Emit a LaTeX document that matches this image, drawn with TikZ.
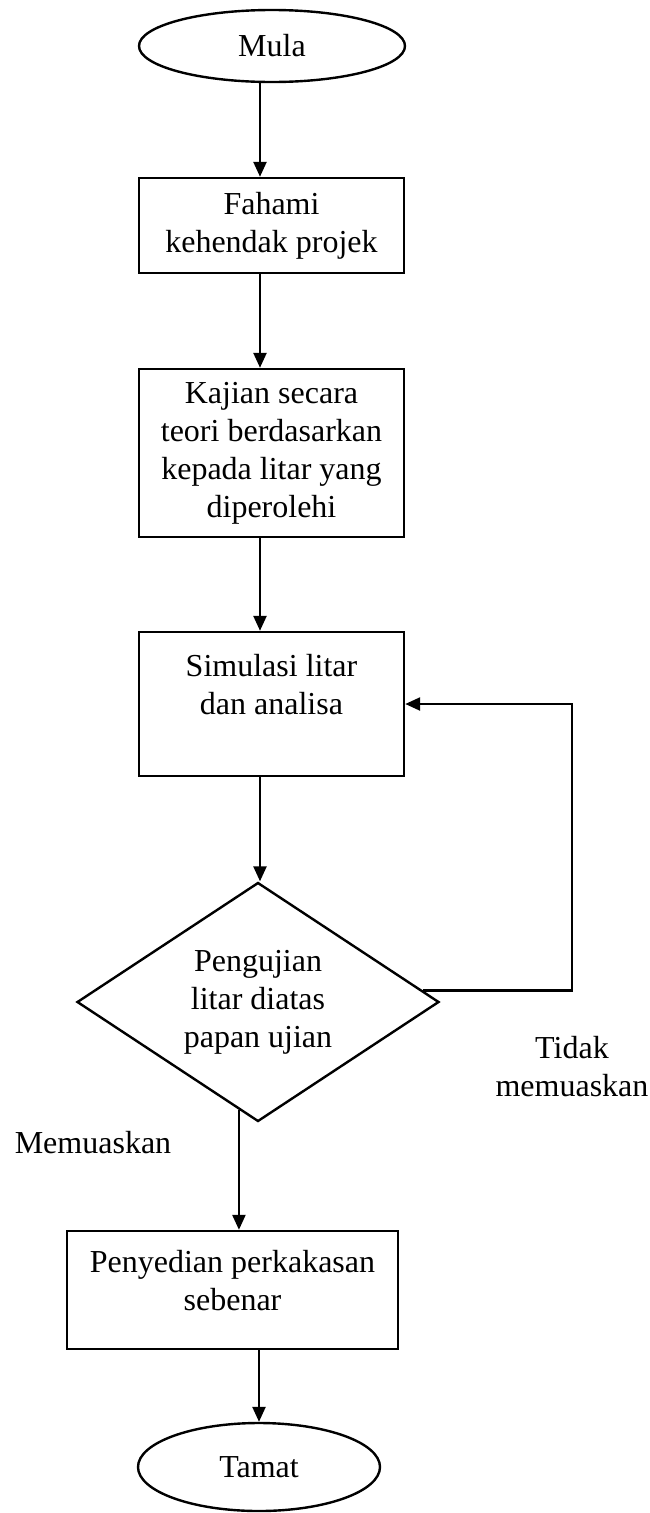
\documentclass[tikz,border=0pt]{standalone}
\usepackage{fontspec}
\setmainfont{Liberation Serif}
\usetikzlibrary{shapes.geometric,arrows.meta}
\newcommand{\padbelow}[1]{\rule[-#1]{0pt}{#1}}
\begin{document}
\begin{tikzpicture}[x=1pt,y=-1pt,
    every node/.style={font=\fontsize{32}{38}\selectfont},
    flowbox/.style={draw,line width=2.4pt,rectangle,align=center,inner sep=0pt},
    terminal/.style={draw,line width=2.4pt,ellipse,inner sep=0pt},
    decision/.style={draw,line width=2.4pt,diamond,align=center,inner sep=0pt,aspect=1.5},
    arrow/.style={line width=2.4pt,-{Triangle[length=15pt,width=13pt]}}]
   \useasboundingbox (0,0) rectangle (650,1513);
   % flow chart
   \node[terminal,minimum width=266pt,minimum height=72pt] (mula) at (272,46) {Mula};
   \node[flowbox,minimum width=265pt,minimum height=95pt] (fahami) at (271.5,225.5) {Fahami\\kehendak projek};
   \node[flowbox,minimum width=265pt,minimum height=168pt] (kajian) at (271.5,453) {Kajian secara\\teori berdasarkan\\kepada litar yang\\diperolehi};
   \node[flowbox,minimum width=265pt,minimum height=144pt] (simulasi) at (271.5,704) {Simulasi litar\\dan analisa\padbelow{40pt}};
   \node[decision,minimum width=362pt,minimum height=239pt] (uji) at (258,1002) {Pengujian\\litar diatas\\papan ujian};
   \node[flowbox,minimum width=331pt,minimum height=118pt] (sedia) at (232.5,1290) {Penyedian perkakasan\\sebenar\padbelow{20pt}};
   \node[terminal,minimum width=242pt,minimum height=88pt] (tamat) at (259,1467) {Tamat};
   \node (lulus) at (93,1143) {Memuaskan};
   \node[align=center] (gagal) at (572,1067) {Tidak\\memuaskan};
   \coordinate (spine) at (260,0);
   \coordinate (turn) at (572,704);
   \draw[arrow] (spine |- mula.south) -- (spine |- fahami.north);
   \draw[arrow] (spine |- fahami.south) -- (spine |- kajian.north);
   \draw[arrow] (spine |- kajian.south) -- (spine |- simulasi.north);
   \draw[arrow] (spine |- simulasi.south) -- (spine |- uji.north);
   \draw[arrow] (uji.260) -- (uji.260 |- sedia.north);
   \draw[arrow] (tamat.north |- sedia.south) -- (tamat.north);
   \draw[arrow] (uji.4) -| (turn) -- (simulasi.east);
\end{tikzpicture}
\end{document}
